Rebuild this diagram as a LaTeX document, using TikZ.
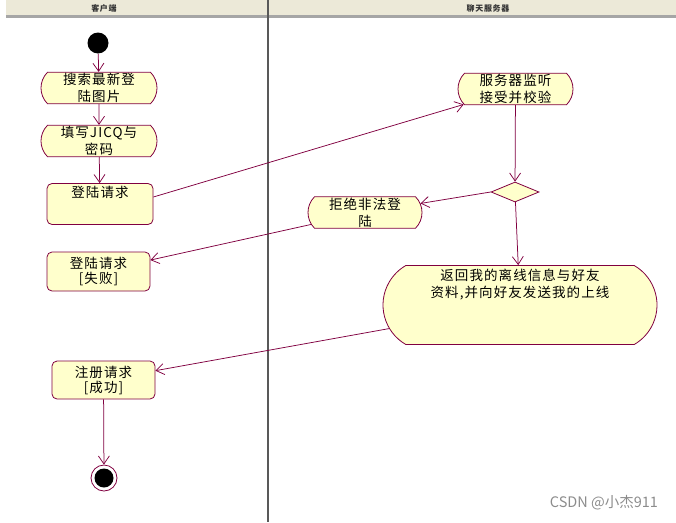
\documentclass[tikz,border=0pt]{standalone}
\usepackage{fontspec}
\setmainfont{Noto Sans CJK SC}
\newfontfamily\cn[LetterSpace=8]{Noto Sans CJK SC}
\usetikzlibrary{shapes.misc,shapes.geometric,arrows.meta}
\definecolor{umlline}{RGB}{128,0,64}
\definecolor{umlfill}{RGB}{255,255,204}
\definecolor{lanebar}{RGB}{236,233,216}

\begin{document}
\begin{tikzpicture}[x=1pt,y=-1pt,
  font=\cn\fontsize{13.5}{17}\selectfont,
  act/.style={rounded rectangle,rounded rectangle arc length=90,draw=umlline,fill=umlfill,align=center,inner sep=1pt,minimum width=118pt,minimum height=31pt},
  state/.style={rectangle,rounded corners=5pt,draw=umlline,fill=umlfill,align=center,inner sep=3pt},
  flow/.style={draw=umlline,line width=0.75pt,-{Straight Barb[length=8pt,width=11pt]}},
  every node/.style={line width=0.8pt}]
\useasboundingbox (0,0) rectangle (676,522);
\fill[lanebar] (6,0) rectangle (676,15);
\fill[gray!70] (6,15) rectangle (676,18);
\draw[black!65,line width=1.5pt] (268,0) -- (268,522);
\node[font=\cn\fontsize{8}{9}\selectfont\bfseries,text=black!80] (lane1) at (104,8) {客户端};
\node[font=\cn\fontsize{8}{9}\selectfont\bfseries,text=black!80] (lane2) at (488,8) {聊天服务器};

\node[circle,fill=black,inner sep=0,minimum size=21pt] (start) at (98,43) {};
\node[act] (search) at (99,88) {搜索最新登\\陆图片};
\node[act] (fill) at (99,141) {填写JICQ与\\密码};
\node[state,minimum width=106pt,text height=11pt,text depth=24pt] (req) at (100,204) {登陆请求};
\node[state,minimum width=103pt,minimum height=39pt] (fail) at (98.5,271.5) {登陆请求\\[-2pt][失败]};
\node[state,minimum width=103pt,minimum height=38pt] (reg) at (103.5,380) {注册请求\\[-2pt][成功]};
\node[circle,draw=umlline,fill=white,inner sep=0,minimum size=26pt,
  path picture={\fill[black] (path picture bounding box.center) circle (9.5pt);}] (stop) at (104,478) {};

\node[act,minimum width=117pt] (listen) at (515.5,89) {服务器监听\\接受并校验};
\node[diamond,draw=umlline,fill=umlfill,aspect=2.4,inner sep=0,minimum width=48pt,minimum height=20pt] (check) at (515,192) {};
\node[act,minimum width=116pt] (deny) at (365,212.5) {拒绝非法登\\陆};
\node[rounded rectangle,rounded rectangle arc length=120,draw=umlline,fill=umlfill,inner sep=3pt,
  minimum width=280pt,text height=12pt,text depth=61pt] (back) at (520,305)
  {\begin{tabular}[t]{@{}c@{}}返回我的离线信息与好友\\资料,并向好友发送我的上线\end{tabular}};

\draw[flow] (start) -- (search);
\draw[flow] (search) -- (fill);
\draw[flow] (fill) -- (req);
\draw[flow] ([yshift=7pt]req.east) -- (listen);
\draw[flow] (listen) -- (check);
\draw[flow] (check.west) -- (deny);
\draw[flow] (check) -- (back);
\draw[flow] (deny) -- (fail);
\draw[flow] (back) -- (reg);
\draw[flow] (reg) -- (stop);

\node[font=\fontsize{14.5}{16}\selectfont,text=black!45] (mark) at (604,503) {CSDN @小杰911};
\end{tikzpicture}
\end{document}
